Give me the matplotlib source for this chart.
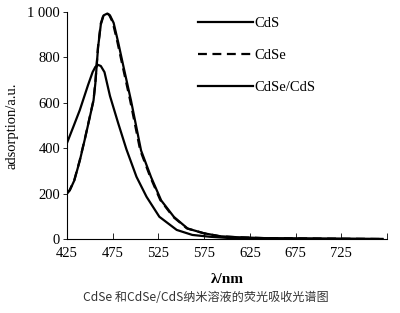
import matplotlib
matplotlib.use("Agg")
import matplotlib.pyplot as plt

# Data
wl_cds = [425, 432, 439, 448, 453, 456, 459, 462, 466, 472, 481, 490, 501, 512, 526, 545, 562, 581, 600, 640, 700, 770]
cds = [423, 495, 568, 678, 735, 758, 767, 762, 735, 630, 510, 395, 274, 186, 98, 40, 18, 10, 5, 2, 1, 0]

wl_cdse = [425, 428, 433, 439, 445, 450, 454, 456, 459, 462, 465, 468, 471, 475, 480, 486, 494, 505, 516, 527, 541, 556, 574, 592, 610, 640, 700, 770]
cdse = [203, 216, 260, 348, 450, 540, 612, 690, 850, 950, 988, 996, 988, 955, 870, 758, 612, 392, 274, 172, 98, 47, 26, 12, 8, 4, 2, 0]

wl_core = [425, 428, 433, 439, 445, 450, 454, 456, 459, 462, 465, 469, 472, 476, 481, 487, 495, 506, 517, 528, 542, 557, 575, 593, 611, 640, 700, 770]
core = [200, 214, 258, 345, 448, 538, 610, 685, 845, 945, 985, 993, 985, 952, 866, 755, 610, 390, 272, 170, 97, 46, 25, 12, 8, 4, 2, 0]

xticks = [425, 475, 525, 575, 625, 675, 725, 775]
xticklabels = ["425", "475", "525", "575", "625", "675", "725", ""]
yticks = [0, 200, 400, 600, 800, 1000]
yticklabels = ["0", "200", "400", "600", "800", "1 000"]

serif = ["Liberation Serif", "DejaVu Serif"]

fig = plt.figure(figsize=(4.0, 3.13), dpi=100)
ax = fig.add_axes([0.1675, 0.2364, 0.80, 0.7253])

ax.plot(wl_cds, cds, color="black", lw=1.6, label="CdS")
ax.plot(wl_cdse, cdse, color="black", lw=1.6, ls=(0, (4, 2.5)), label="CdSe")
ax.plot(wl_core, core, color="black", lw=1.6, label="CdSe/CdS")

ax.set_xlim(425, 775)
ax.set_ylim(0, 1000)
ax.spines["top"].set_visible(False)
ax.spines["right"].set_visible(False)
ax.spines["left"].set_linewidth(0.8)
ax.spines["bottom"].set_linewidth(0.8)
ax.set_xticks(xticks)
ax.set_xticklabels(xticklabels, fontfamily=serif, fontsize=10.5)
ax.set_yticks(yticks)
ax.set_yticklabels(yticklabels, fontfamily=serif, fontsize=10.5)
ax.tick_params(axis="x", direction="in", length=4, width=0.6, pad=6)
ax.tick_params(axis="y", direction="out", length=3, width=0.6, pad=2)

ax.set_ylabel("adsorption/a.u.", fontfamily=serif, fontsize=10.5, labelpad=6)
ax.set_xlabel("λ/nm", fontfamily=serif, fontsize=11, fontweight="bold", labelpad=9)

leg = ax.legend(frameon=False, loc="upper left", bbox_to_anchor=(0.39, 1.005),
                prop={"family": serif, "size": 10.5}, handlelength=3.8,
                handletextpad=0.1, labelspacing=1.3, borderaxespad=0)

fig.text(0.515, 0.05, "CdSe 和CdSe/CdS纳米溶液的荧光吸收光谱图",
         ha="center", va="center", fontsize=8.7, color="#333333",
         family=["Noto Sans CJK SC", "DejaVu Sans"])

fig.savefig("out.png", dpi=100)
